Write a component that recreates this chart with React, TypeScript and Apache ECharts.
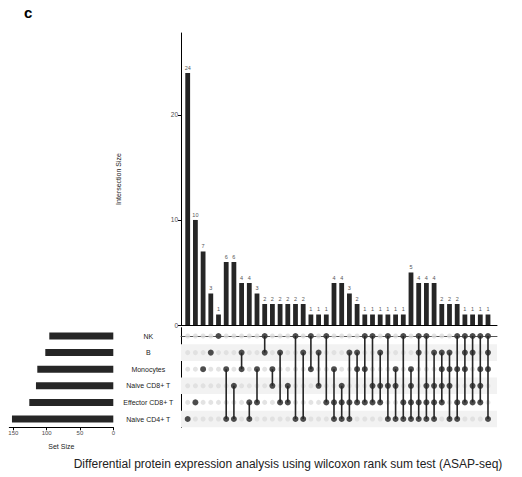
import React, { useEffect, useRef } from "react";
import * as echarts from "echarts";

const sets = ["NK", "B", "Monocytes", "Naive CD8+ T", "Effector CD8+ T", "Naive CD4+ T"];
const setSizes = [96, 102, 114, 116, 126, 152];

const intersectionSizes = [
  24, 10, 7, 3, 1,
  6, 6, 4, 4, 3, 2, 2, 2, 2, 2, 2, 1, 1, 1,
  4, 4, 3, 2, 1, 1, 1, 1, 1, 1,
  5, 4, 4, 4, 2, 2, 2, 1, 1, 1, 1,
];

const NK = "NK", B = "B", MO = "Monocytes", N8 = "Naive CD8+ T", E8 = "Effector CD8+ T", N4 = "Naive CD4+ T";
const intersectionMembers: string[][] = [
  [N4], [E8], [MO], [B], [NK],
  [MO, N4], [N8, N4], [B, MO], [E8, N4], [MO, E8], [NK, B], [MO, N8], [B, E8], [N8, E8],
  [NK, N4], [B, N4], [NK, MO], [B, N8], [NK, E8],
  [MO, E8, N4], [N8, E8, N4], [B, E8, N4], [B, MO, E8], [NK, MO, E8], [NK, N8, E8],
  [B, N8, E8], [NK, N8, N4], [MO, N8, N4], [NK, E8, N4],
  [MO, N8, E8, N4], [NK, B, E8, N4], [NK, N8, E8, N4], [B, N8, E8, N4], [B, MO, N8, E8],
  [B, MO, N8, N4], [NK, MO, E8, N4], [NK, B, MO, E8], [NK, B, N8, E8], [NK, MO, N8, E8],
  [NK, B, MO, N4],
];

const intersectionTicks = { min: 0, max: 27.8, interval: 10 };
const setSizeTicks = { min: 0, max: 156, interval: 50 };

const FONT = "Liberation Sans";
const DARK = "#262626";

export default function App() {
  const ref = useRef<HTMLDivElement>(null);
  useEffect(() => {
    if (!ref.current) return;
    const chart = echarts.init(ref.current, undefined, { renderer: "svg" });
    const nCols = intersectionSizes.length;
    const xMin = 0.13, xMax = 41.17;

    const lightDots: number[][] = [];
    for (let c = 0; c < nCols; c++) for (let r = 0; r < sets.length; r++) lightDots.push([c + 1, r]);
    const darkDots: number[][] = [];
    const segs: number[][] = [];
    intersectionMembers.forEach((m, c) => {
      const rows = m.map((s) => sets.indexOf(s));
      rows.forEach((r) => darkDots.push([c + 1, r]));
      segs.push([c + 1, Math.min(...rows), Math.max(...rows)]);
    });
    const stripes = sets
      .map((_, i) => i)
      .filter((i) => i % 2 === 1)
      .map((i) => [{ yAxis: i - 0.5 }, { yAxis: i + 0.5 }]);

    const option: any = {
      animation: false,
      textStyle: { fontFamily: FONT },
      grid: [
        { left: 181, top: 33, width: 316, height: 292 },
        { left: 181, top: 327.7, width: 316, height: 99.6 },
        { left: 9.3, top: 327.7, width: 104, height: 99.6 },
      ],
      xAxis: [
        {
          gridIndex: 0, type: "value", min: xMin, max: xMax,
          axisLine: { show: true, lineStyle: { color: "#000", width: 1 } },
          axisTick: { show: false }, axisLabel: { show: false }, splitLine: { show: false },
        },
        {
          gridIndex: 1, type: "value", min: xMin, max: xMax,
          axisLine: { show: true, lineStyle: { color: "#555", width: 1 } },
          axisTick: { show: false }, axisLabel: { show: false }, splitLine: { show: false },
        },
        {
          gridIndex: 2, type: "value", inverse: true,
          min: setSizeTicks.min, max: setSizeTicks.max, interval: setSizeTicks.interval,
          axisLine: { show: true, lineStyle: { color: "#000", width: 1 } },
          axisTick: { show: true, inside: false, length: 3, lineStyle: { color: "#000" } },
          axisLabel: { fontSize: 6, color: "#4d4d4d", margin: 3, fontFamily: FONT, showMaxLabel: false },
          splitLine: { show: false },
          name: "Set Size", nameLocation: "middle", nameGap: 16,
          nameTextStyle: { fontSize: 7, color: "#222", fontFamily: FONT },
        },
      ],
      yAxis: [
        {
          gridIndex: 0, type: "value",
          min: intersectionTicks.min, max: intersectionTicks.max, interval: intersectionTicks.interval,
          axisLine: { show: true, lineStyle: { color: "#000", width: 1 } },
          axisTick: { show: true, inside: false, length: 3, lineStyle: { color: "#000" } },
          axisLabel: { fontSize: 6.5, color: "#4d4d4d", margin: 3, fontFamily: FONT, showMaxLabel: false },
          splitLine: { show: false },
          name: "Intersection Size", nameLocation: "middle", nameGap: 59, nameRotate: 90,
          nameTextStyle: { fontSize: 7, color: "#222", fontFamily: FONT },
        },
        {
          gridIndex: 1, type: "value", inverse: true, min: -0.5, max: sets.length - 0.5,
          axisLine: { show: true, lineStyle: { color: "#000", width: 1 } },
          axisTick: { show: false }, axisLabel: { show: false }, splitLine: { show: false },
        },
        {
          gridIndex: 2, type: "category", data: sets, inverse: true, position: "right",
          axisLine: { show: false }, axisTick: { show: false },
          axisLabel: { align: "center", margin: 35, fontSize: 7, color: "#222", fontFamily: FONT },
        },
      ],
      series: [
        {
          type: "bar", xAxisIndex: 0, yAxisIndex: 0,
          data: intersectionSizes.map((v, i) => [i + 1, v]),
          barWidth: 4.8, itemStyle: { color: DARK },
          label: { show: true, position: "top", distance: 2, fontSize: 5.5, color: "#555", fontFamily: FONT,
            formatter: (p: any) => String(p.value[1]) },
        },
        {
          type: "scatter", xAxisIndex: 1, yAxisIndex: 1, data: lightDots,
          symbolSize: 5, itemStyle: { color: "#dcdcdc" }, z: 2,
          markArea: { silent: true, itemStyle: { color: "#f2f2f2" }, data: stripes },
        },
        {
          type: "custom", xAxisIndex: 1, yAxisIndex: 1, data: segs, z: 3,
          renderItem: (params: any, api: any) => {
            const p1 = api.coord([api.value(0), api.value(1)]);
            const p2 = api.coord([api.value(0), api.value(2)]);
            return {
              type: "line",
              shape: { x1: p1[0], y1: p1[1], x2: p2[0], y2: p2[1] },
              style: { stroke: DARK, lineWidth: 1.6 },
            };
          },
        },
        {
          type: "scatter", xAxisIndex: 1, yAxisIndex: 1, data: darkDots,
          symbolSize: 6, itemStyle: { color: DARK }, z: 4,
        },
        {
          type: "bar", xAxisIndex: 2, yAxisIndex: 2, data: setSizes,
          barWidth: 7, itemStyle: { color: DARK },
        },
      ],
      graphic: [
        { type: "text", left: 24, top: 5, style: { text: "c", fontSize: 15, fontWeight: "bold", fill: "#000", fontFamily: FONT } },
        {
          type: "text", x: 288, y: 464,
          style: {
            text: "Differential protein expression analysis using wilcoxon rank sum test (ASAP-seq)",
            fontSize: 12, fill: "#222", fontFamily: FONT, align: "center", verticalAlign: "middle",
          },
        },
      ],
    };
    chart.setOption(option);
    return () => chart.dispose();
  }, []);
  return <div ref={ref} style={{ width: 522, height: 477, position: "absolute", left: 0, top: 0 }} />;
}
